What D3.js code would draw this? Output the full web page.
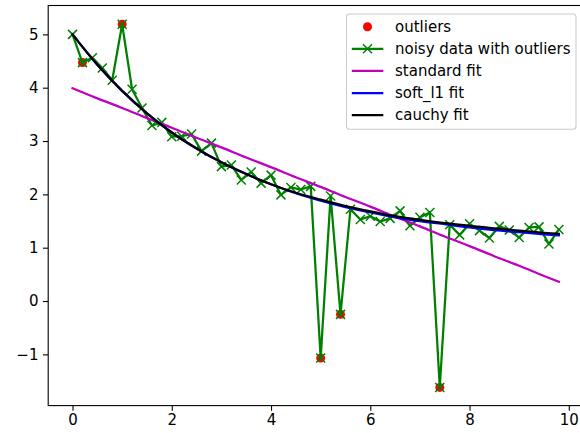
<!DOCTYPE html>
<html><head><meta charset="utf-8">
<script src="https://cdn.jsdelivr.net/npm/d3@7"></script>
<style>body{margin:0;background:#fff}svg{display:block}</style>
</head><body>
<script>
// ---- data ----
const tValues = [0,0.2,0.4,0.6,0.8,1.0,1.2,1.4,1.6,1.8,2.0,2.2,2.4,2.6,2.8,3.0,3.2,3.4,3.6,3.8,
  4.0,4.2,4.4,4.6,4.8,5.0,5.2,5.4,5.6,5.8,6.0,6.2,6.4,6.6,6.8,7.0,7.2,7.4,7.6,7.8,
  8.0,8.2,8.4,8.6,8.8,9.0,9.2,9.4,9.6,9.8];
const noisyY = [5.00,4.47,4.56,4.37,4.14,5.19,3.97,3.62,3.29,3.35,3.08,3.09,3.13,2.81,2.96,2.52,2.55,2.27,2.42,2.21,
  2.36,1.99,2.13,2.09,2.15,-1.07,1.97,-0.25,1.72,1.53,1.59,1.49,1.55,1.69,1.41,1.57,1.66,-1.62,1.43,1.24,
  1.45,1.32,1.18,1.40,1.33,1.19,1.38,1.39,1.07,1.34];
const outlierT = [0.2,1.0,5.0,5.4,7.4];
const outlierY = [4.47,5.19,-1.07,-0.25,-1.62];
const fitT        = [0,0.5,1,1.5,2,2.5,3,3.5,4,4.5,5,5.5,6,6.5,7,7.5,8,8.5,9,9.5,9.8];
const standardFit = [3.99,3.80,3.62,3.43,3.25,3.06,2.88,2.69,2.51,2.32,2.14,1.95,1.77,1.58,1.40,1.21,1.03,0.84,0.66,0.47,0.36];
const softL1Fit   = [5.00,4.43,3.94,3.52,3.16,2.86,2.60,2.38,2.19,2.02,1.88,1.76,1.66,1.57,1.50,1.44,1.38,1.33,1.29,1.25,1.23];
const cauchyFit   = [5.00,4.43,3.94,3.52,3.16,2.86,2.60,2.38,2.19,2.03,1.90,1.78,1.68,1.59,1.52,1.46,1.41,1.36,1.32,1.28,1.26];
const xTicks = [0,2,4,6,8,10];
const yTicks = [-1,0,1,2,3,4,5];
const legendLabels = ["outliers","noisy data with outliers","standard fit","soft_l1 fit","cauchy fit"];
const legendColors = ["#ff0000","#008000","#bf00bf","#0000ff","#000000"];

// ---- layout ----
const W = 580, H = 433;
const L = 48.2, R = 583.2, T = 5.5, B = 405.6;
const FONT = "'DejaVu Sans', sans-serif";

const svg = d3.select("body").append("svg").attr("width", W).attr("height", H);
const x = d3.scaleLinear().domain([-0.49, 10.29]).range([L, R]);
const y = d3.scaleLinear().domain([-1.961, 5.541]).range([B, T]);

svg.append("defs").append("clipPath").attr("id","clip")
  .append("rect").attr("x",L).attr("y",T).attr("width",R-L).attr("height",B-T);
const plot = svg.append("g").attr("clip-path","url(#clip)");

// outliers
plot.selectAll("circle.out").data(outlierT).join("circle").attr("class","out")
  .attr("cx",(d)=>x(d)).attr("cy",(d,i)=>y(outlierY[i])).attr("r",4.5).attr("fill","#ff0000");

// noisy data line
const line = d3.line().x(d=>x(d[0])).y(d=>y(d[1]));
plot.append("path").datum(tValues.map((t,i)=>[t,noisyY[i]]))
  .attr("d",line).attr("fill","none").attr("stroke","#008000").attr("stroke-width",2.25)
  .attr("stroke-linejoin","round").attr("stroke-linecap","square");
const xMark = "M-4.5,-4.5L4.5,4.5M-4.5,4.5L4.5,-4.5";
plot.selectAll("path.xm").data(tValues).join("path").attr("class","xm")
  .attr("d",xMark).attr("transform",(d,i)=>`translate(${x(d)},${y(noisyY[i])})`)
  .attr("stroke","#008000").attr("stroke-width",1.5).attr("fill","none");

// fits
const fitLine = d3.line().x(d=>x(d[0])).y(d=>y(d[1])).curve(d3.curveMonotoneX);
[[standardFit,"#bf00bf"],[softL1Fit,"#0000ff"],[cauchyFit,"#000000"]].forEach(([vals,c])=>{
  plot.append("path").datum(fitT.map((t,i)=>[t,vals[i]]))
    .attr("d",fitLine).attr("fill","none").attr("stroke",c).attr("stroke-width",2.25)
    .attr("stroke-linecap","square").attr("stroke-linejoin","round");
});

// axes
const xa = svg.append("g").attr("transform",`translate(0,${B})`)
  .call(d3.axisBottom(x).tickValues(xTicks).tickFormat(d3.format("d")).tickSizeInner(5.25).tickSizeOuter(0).tickPadding(4));
const ya = svg.append("g").attr("transform",`translate(${L},0)`)
  .call(d3.axisLeft(y).tickValues(yTicks).tickFormat(d=>d<0?"\u2212"+Math.abs(d):d).tickSizeInner(5.25).tickSizeOuter(0).tickPadding(4.5));
[xa,ya].forEach(g=>{
  g.select(".domain").remove();
  g.selectAll(".tick line").attr("stroke","#000").attr("stroke-width",1.1);
  g.selectAll(".tick text").attr("fill","#000").style("font-family",FONT).style("font-size","15px");
});
// spines
svg.append("rect").attr("x",L).attr("y",T).attr("width",R-L).attr("height",B-T)
  .attr("fill","none").attr("stroke","#000").attr("stroke-width",1.1);

// legend
const lg = svg.append("g");
lg.append("rect").attr("x",346.5).attr("y",14).attr("width",229.5).attr("height",115.3)
  .attr("rx",3).attr("fill","#fff").attr("fill-opacity",0.8).attr("stroke","#cccccc").attr("stroke-width",1.1);
legendLabels.forEach((lab,i)=>{
  const cy = 26.7 + i*22.1;
  const g = lg.append("g");
  if(i===0){
    g.append("circle").attr("cx",367.5).attr("cy",cy).attr("r",4.5).attr("fill",legendColors[i]);
  } else {
    g.append("line").attr("x1",351.8).attr("x2",383.3).attr("y1",cy).attr("y2",cy)
      .attr("stroke",legendColors[i]).attr("stroke-width",2.25);
    if(i===1) g.append("path").attr("d",xMark).attr("transform",`translate(367.5,${cy})`)
      .attr("stroke",legendColors[i]).attr("stroke-width",1.5);
  }
  g.append("text").attr("x",395).attr("y",cy).attr("dy","0.35em").text(lab)
    .style("font-family",FONT).style("font-size","15px").attr("fill","#000");
});
</script>
</body></html>
